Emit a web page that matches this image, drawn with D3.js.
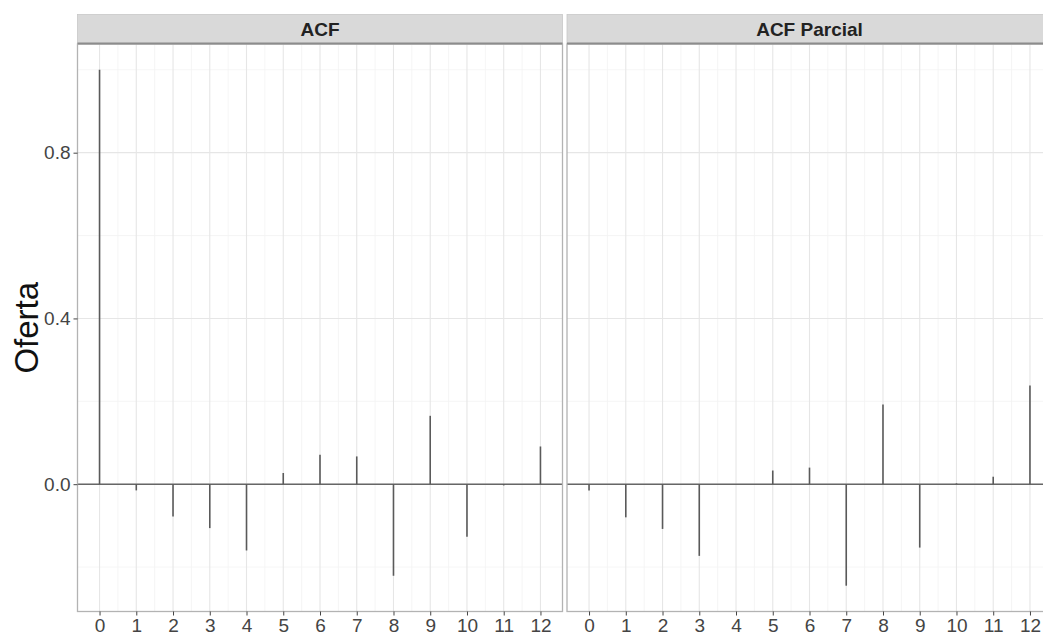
<!DOCTYPE html>
<html><head><meta charset="utf-8">
<script src="https://cdn.jsdelivr.net/npm/d3@7"></script>
<style>body{margin:0;background:#fff;} svg{display:block;}</style>
</head><body>
<svg id="c" width="1043" height="637"></svg>
<script>
const lags = [0,1,2,3,4,5,6,7,8,9,10,11,12];
const acfValues  = [1.0,-0.015,-0.078,-0.106,-0.160,0.027,0.071,0.067,-0.221,0.165,-0.127,-0.003,0.091];
const pacfValues = [-0.015,-0.080,-0.108,-0.173,0.0,0.033,0.040,-0.245,0.192,-0.153,0.002,0.018,0.238];
const panelTitles = ["ACF","ACF Parcial"];
const yTicks = [0.0,0.4,0.8];
const yMinor = [-0.2,0.2,0.6,1.0];
const yLabel = "Oferta";

(function(){
const svg = d3.select("#c");
const pTop = 44, pBottom = 611.5, stripTop = 14.5;
const panels = [
  {title: panelTitles[0], vals: acfValues, x0: 77.5, x1: 562.5},
  {title: panelTitles[1], vals: pacfValues, x0: 567, x1: 1052}
];
const y = d3.scaleLinear().domain([-0.245 - 0.05*1.245, 1 + 0.05*1.245]).range([pBottom, pTop]);
const font = "Liberation Sans, Arial, sans-serif";
const fmt = d3.format(".1f");
panels.forEach(p => {
  const x = d3.scaleLinear().domain([-0.6, 12.6]).range([p.x0, p.x1]);
  const g = svg.append("g");
  g.append("rect").attr("x", p.x0).attr("y", pTop).attr("width", p.x1-p.x0).attr("height", pBottom-pTop).attr("fill","#fff");
  const xMinor = d3.range(0, 12, 1).map(d => d + 0.5);
  g.selectAll(".xm").data(xMinor).join("line").attr("x1",d=>x(d)).attr("x2",d=>x(d)).attr("y1",pTop).attr("y2",pBottom).attr("stroke","#f2f2f2").attr("stroke-width",0.8);
  g.selectAll(".ym").data(yMinor).join("line").attr("y1",d=>y(d)).attr("y2",d=>y(d)).attr("x1",p.x0).attr("x2",p.x1).attr("stroke","#f2f2f2").attr("stroke-width",0.8);
  g.selectAll(".xM").data(lags).join("line").attr("x1",d=>x(d)).attr("x2",d=>x(d)).attr("y1",pTop).attr("y2",pBottom).attr("stroke","#e6e6e6").attr("stroke-width",1.1);
  g.selectAll(".yM").data(yTicks).join("line").attr("y1",d=>y(d)).attr("y2",d=>y(d)).attr("x1",p.x0).attr("x2",p.x1).attr("stroke","#e6e6e6").attr("stroke-width",1.1);
  g.append("line").attr("x1",p.x0).attr("x2",p.x1).attr("y1",y(0)).attr("y2",y(0)).attr("stroke","#666").attr("stroke-width",1.5);
  g.selectAll(".stem").data(lags).join("line").attr("x1",d=>x(d)).attr("x2",d=>x(d)).attr("y1",y(0)).attr("y2",(d,i)=>y(p.vals[i])).attr("stroke","#5a5a5a").attr("stroke-width",1.6);
  g.append("rect").attr("x", p.x0).attr("y", pTop).attr("width", p.x1-p.x0).attr("height", pBottom-pTop).attr("fill","none").attr("stroke","#b3b3b3").attr("stroke-width",1.3);
  g.append("rect").attr("x", p.x0).attr("y", stripTop).attr("width", p.x1-p.x0).attr("height", pTop-stripTop).attr("fill","#d9d9d9").attr("stroke","#c8c8c8").attr("stroke-width",0.8);
  g.append("line").attr("x1",p.x0).attr("x2",p.x1).attr("y1",pTop-0.5).attr("y2",pTop-0.5).attr("stroke","#8c8c8c").attr("stroke-width",1.8);
  g.append("text").attr("x",(p.x0+p.x1)/2).attr("y",(stripTop+pTop)/2+7).attr("text-anchor","middle")
    .attr("font-family",font).attr("font-weight","bold").attr("font-size",19).attr("fill","#222").text(p.title);
  const ax = g.append("g").attr("transform",`translate(0,${pBottom})`).call(d3.axisBottom(x).tickValues(lags).tickSize(4).tickPadding(3).tickFormat(d3.format("d")));
  ax.select(".domain").remove();
  ax.selectAll(".tick line").attr("stroke","#444").attr("stroke-width",1);
  ax.selectAll(".tick text").attr("font-family",font).attr("font-size",19).attr("fill","#444");
});
const ay = svg.append("g").attr("transform",`translate(${panels[0].x0},0)`).call(d3.axisLeft(y).tickValues(yTicks).tickSize(4).tickPadding(3).tickFormat(fmt));
ay.select(".domain").remove();
ay.selectAll(".tick line").attr("stroke","#444");
ay.selectAll(".tick text").attr("font-family",font).attr("font-size",19).attr("fill","#444");
svg.append("text").attr("transform",`translate(38,${(pTop+pBottom)/2}) rotate(-90)`).attr("text-anchor","middle")
  .attr("font-family",font).attr("font-size",33).attr("fill","#111").text(yLabel);
})();
</script>
</body></html>
